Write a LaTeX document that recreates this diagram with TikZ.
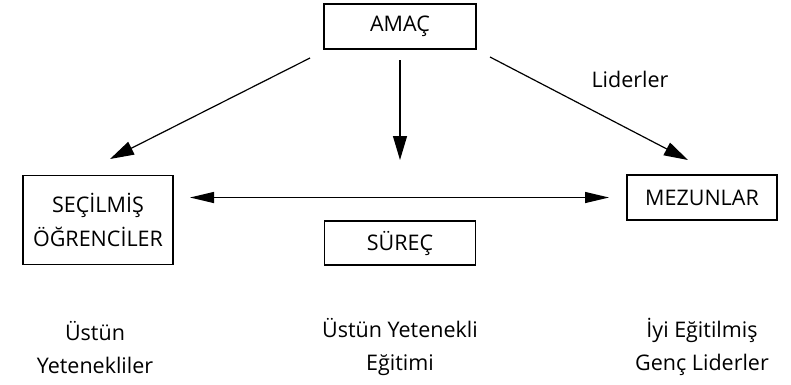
\documentclass[tikz,border=0pt]{standalone}
\usepackage{fontspec}
\setmainfont{Open Sans}
\usetikzlibrary{arrows.meta}
\begin{document}
\begin{tikzpicture}[x=1pt,y=-1pt,
  box/.style={draw, line width=1.2pt, inner sep=0pt, align=center, font=\fontsize{21.5}{34}\selectfont},
  lbl/.style={align=center, font=\fontsize{21.5}{33}\selectfont},
  arr/.style={line width=1.2pt, -{Triangle[length=24pt,width=14pt]}},
  darr/.style={line width=1.2pt, {Triangle[length=24pt,width=11pt]}-{Triangle[length=24pt,width=11pt]}}]
\useasboundingbox (0,0) rectangle (791,384);
\node[box, minimum width=152pt, minimum height=45pt] (amac) at (400,26.5) {AMAÇ};
\node[box, minimum width=150pt, minimum height=89pt] (secil) at (98,220) {SEÇİLMİŞ\\ÖĞRENCİLER};
\node[box, minimum width=151pt, minimum height=44pt] (surec) at (400,243) {SÜREÇ};
\node[box, minimum width=150pt, minimum height=45pt] (mez) at (702,197.5) {MEZUNLAR};
\coordinate (a1) at (310,58);
\coordinate (t1) at (110,159);
\coordinate (a2) at (400,60);
\coordinate (t2) at (400,160);
\coordinate (a3) at (490,57);
\coordinate (t3) at (688,160);
\coordinate (d1) at (190,197.5);
\coordinate (d2) at (609,197.5);
\draw[arr] (a1) -- (t1);
\draw[arr] (a2) -- (t2);
\draw[arr] (a3) -- (t3);
\draw[darr] (d1) -- (d2);
\node[lbl] (lid) at (630,79) {Liderler};
\node[lbl] (b1) at (95,347) {Üstün\\Yetenekliler};
\node[lbl] (b2) at (400,347) {Üstün Yetenekli\\Eğitimi};
\node[lbl] (b3) at (702,347) {İyi Eğitilmiş\\Genç Liderler};
\end{tikzpicture}
\end{document}
